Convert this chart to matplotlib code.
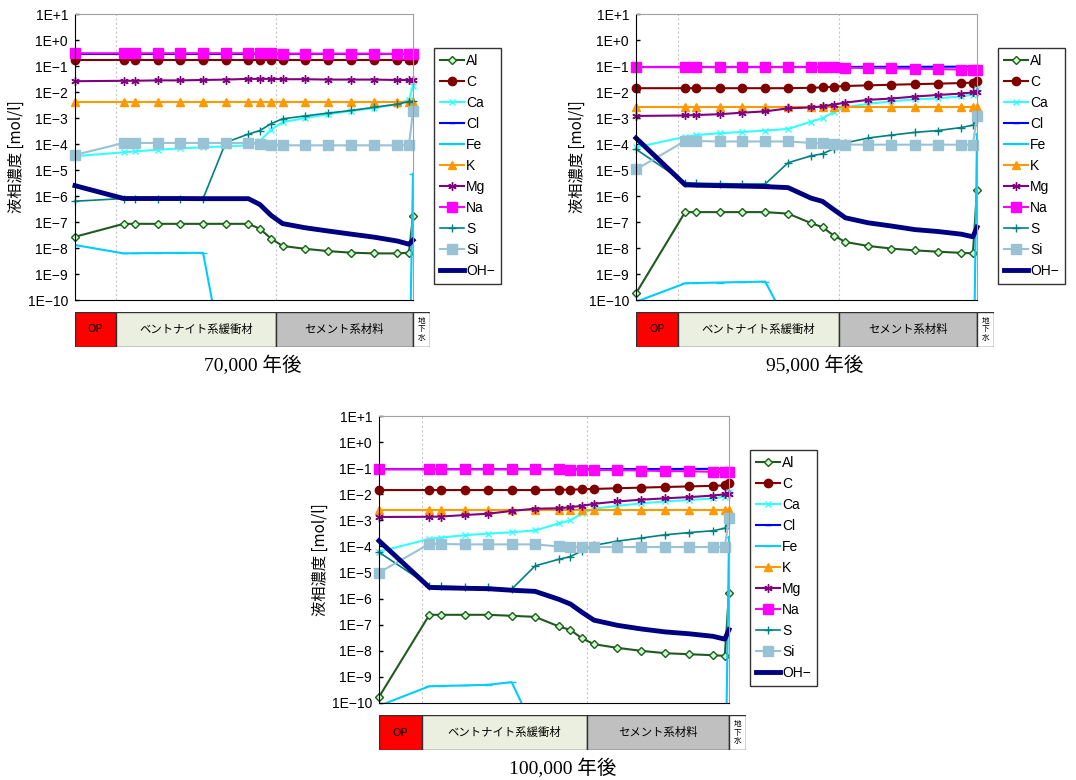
import numpy as np
import matplotlib
matplotlib.use("Agg")
from matplotlib import pyplot as plt
from matplotlib.ticker import FixedLocator, FuncFormatter, NullLocator

plt.rcParams['font.family'] = ['Liberation Sans', 'Noto Sans CJK JP', 'DejaVu Sans']

# positions of calculation nodes (fraction of OP + buffer + cement width)
X = [0.0, 0.144, 0.177, 0.245, 0.312, 0.379, 0.446, 0.513, 0.547, 0.580,
     0.614, 0.681, 0.749, 0.818, 0.886, 0.954, 0.988, 1.0]
REGION_EDGES = [0.0, 0.122, 0.595, 1.0, 1.05]
REGION_NAMES = ['OP', 'ベントナイト系緩衝材', 'セメント系材料', '地\n下\n水']
SPECIES = ['Al', 'C', 'Ca', 'Cl', 'Fe', 'K', 'Mg', 'Na', 'S', 'Si', 'OH−']

# 70,000 years
AL_70 = [2.7e-8, 8.5e-8, 8.5e-8, 8.5e-8, 8.5e-8, 8.5e-8, 8.5e-8, 8.5e-8, 5.5e-8, 2.3e-8,
         1.2e-8, 9.3e-9, 7.6e-9, 6.6e-9, 6.2e-9, 6.2e-9, 6.6e-9, 1.7e-7]
C_70 = [0.17, 0.17, 0.17, 0.17, 0.17, 0.17, 0.17, 0.17, 0.17, 0.17,
        0.17, 0.17, 0.17, 0.17, 0.17, 0.17, 0.17, 0.17]
CA_70 = [3.4e-5, 4.8e-5, 5.2e-5, 6.0e-5, 6.8e-5, 7.5e-5, 8.1e-5, 8.9e-5, 1.3e-4, 3.6e-4,
         6.9e-4, 1.0e-3, 1.4e-3, 1.9e-3, 2.4e-3, 3.5e-3, 5.0e-3, 1.7e-2]
CL_70 = [0.28, 0.28, 0.28, 0.28, 0.28, 0.28, 0.28, 0.28, 0.28, 0.28,
         0.28, 0.28, 0.28, 0.28, 0.28, 0.28, 0.28, 0.28]
FE_70 = [1.3e-8, 6.2e-9, 6.3e-9, 6.4e-9, 6.5e-9, 6.5e-9, 1.5e-13, 1e-14, 1e-14, 1e-14,
         1e-14, 1e-14, 1e-14, 1e-14, 1e-14, 1e-14, 1e-14, 7.2e-6]
K_70 = [4.1e-3, 4.1e-3, 4.1e-3, 4.1e-3, 4.1e-3, 4.1e-3, 4.1e-3, 4.1e-3, 4.1e-3, 4.1e-3,
        4.1e-3, 4.1e-3, 4.1e-3, 4.1e-3, 4.1e-3, 4.1e-3, 4.1e-3, 4.1e-3]
MG_70 = [0.026, 0.027, 0.027, 0.028, 0.028, 0.029, 0.030, 0.032, 0.032, 0.032,
         0.031, 0.031, 0.030, 0.030, 0.030, 0.029, 0.029, 0.029]
NA_70 = [0.31, 0.31, 0.31, 0.31, 0.31, 0.31, 0.31, 0.31, 0.31, 0.31,
         0.30, 0.30, 0.30, 0.30, 0.30, 0.29, 0.29, 0.29]
S_70 = [6.3e-7, 8.0e-7, 8.0e-7, 8.0e-7, 8.0e-7, 8.0e-7, 1.15e-4, 2.4e-4, 3.3e-4, 6.0e-4,
        9.3e-4, 1.2e-3, 1.55e-3, 1.95e-3, 2.6e-3, 3.4e-3, 4.3e-3, 4.4e-3]
SI_70 = [3.8e-5, 1.1e-4, 1.1e-4, 1.1e-4, 1.1e-4, 1.1e-4, 1.1e-4, 1.1e-4, 1.0e-4, 9.1e-5,
         8.9e-5, 8.9e-5, 8.9e-5, 8.9e-5, 8.9e-5, 8.9e-5, 8.9e-5, 1.8e-3]
OH_70 = [2.5e-6, 8.0e-7, 8.0e-7, 8.0e-7, 8.0e-7, 7.9e-7, 7.9e-7, 7.9e-7, 4.7e-7, 1.8e-7,
         8.7e-8, 6.0e-8, 4.5e-8, 3.4e-8, 2.6e-8, 1.85e-8, 1.4e-8, 2.0e-8]

# 95,000 years
AL_95 = [1.8e-10, 2.4e-7, 2.4e-7, 2.4e-7, 2.4e-7, 2.4e-7, 2.1e-7, 9.1e-8, 6.3e-8, 3.0e-8,
         1.7e-8, 1.2e-8, 9.5e-9, 8.1e-9, 7.2e-9, 6.5e-9, 6.2e-9, 1.7e-6]
C_95 = [0.014, 0.014, 0.014, 0.014, 0.014, 0.014, 0.014, 0.0145, 0.015, 0.016,
        0.017, 0.018, 0.019, 0.020, 0.021, 0.022, 0.023, 0.026]
CA_95 = [7.4e-5, 1.9e-4, 2.2e-4, 2.6e-4, 2.9e-4, 3.3e-4, 3.8e-4, 7.2e-4, 1.0e-3, 1.7e-3,
         2.6e-3, 3.5e-3, 4.4e-3, 5.2e-3, 5.7e-3, 6.8e-3, 7.9e-3, 1.3e-2]
CL_95 = [0.092, 0.092, 0.092, 0.092, 0.092, 0.092, 0.092, 0.092, 0.092, 0.092,
         0.092, 0.093, 0.093, 0.093, 0.094, 0.094, 0.095, 0.095]
FE_95 = [8.5e-11, 4.4e-10, 4.5e-10, 4.7e-10, 4.9e-10, 5.1e-10, 1.1e-11, 1e-14, 1e-14, 1e-14,
         1e-14, 1e-14, 1e-14, 1e-14, 1e-14, 1e-14, 1e-15, 2.4e-4]
K_95 = [2.6e-3, 2.6e-3, 2.6e-3, 2.6e-3, 2.6e-3, 2.6e-3, 2.6e-3, 2.6e-3, 2.6e-3, 2.6e-3,
        2.6e-3, 2.6e-3, 2.6e-3, 2.6e-3, 2.6e-3, 2.6e-3, 2.6e-3, 2.6e-3]
MG_95 = [1.2e-3, 1.25e-3, 1.3e-3, 1.4e-3, 1.6e-3, 1.8e-3, 2.35e-3, 2.55e-3, 2.8e-3, 3.3e-3,
         3.9e-3, 5.0e-3, 5.6e-3, 6.7e-3, 7.7e-3, 8.7e-3, 9.7e-3, 1.0e-2]
NA_95 = [0.09, 0.09, 0.09, 0.09, 0.09, 0.09, 0.09, 0.09, 0.089, 0.088,
         0.086, 0.084, 0.081, 0.078, 0.076, 0.073, 0.070, 0.070]
S_95 = [6.3e-5, 3.3e-6, 3.1e-6, 3.0e-6, 2.9e-6, 2.9e-6, 1.9e-5, 3.5e-5, 4.2e-5, 6.6e-5,
        1.1e-4, 1.7e-4, 2.2e-4, 2.8e-4, 3.3e-4, 4.3e-4, 5.3e-4, 8.5e-4]
SI_95 = [1.05e-5, 1.3e-4, 1.3e-4, 1.25e-4, 1.25e-4, 1.25e-4, 1.25e-4, 1.1e-4, 1.05e-4, 1.0e-4,
         9.5e-5, 9.4e-5, 9.4e-5, 9.4e-5, 9.4e-5, 9.4e-5, 9.4e-5, 1.2e-3]
OH_95 = [1.7e-4, 2.7e-6, 2.6e-6, 2.5e-6, 2.4e-6, 2.3e-6, 2.1e-6, 8.3e-7, 6.2e-7, 3.0e-7,
         1.45e-7, 9.3e-8, 7.0e-8, 5.1e-8, 4.3e-8, 3.4e-8, 2.7e-8, 6.3e-8]

# 100,000 years
AL_100 = [1.7e-10, 2.4e-7, 2.4e-7, 2.4e-7, 2.4e-7, 2.2e-7, 2.0e-7, 8.7e-8, 6.3e-8, 3.0e-8,
          1.8e-8, 1.3e-8, 1.0e-8, 8.1e-9, 7.4e-9, 6.8e-9, 6.4e-9, 1.7e-6]
C_100 = [0.0145, 0.0145, 0.0145, 0.0145, 0.0145, 0.0145, 0.0145, 0.015, 0.015, 0.0155,
         0.016, 0.017, 0.018, 0.019, 0.020, 0.021, 0.022, 0.026]
CA_100 = [6.3e-5, 1.95e-4, 2.2e-4, 2.7e-4, 3.1e-4, 3.5e-4, 4.1e-4, 7.6e-4, 1.0e-3, 1.85e-3,
          2.8e-3, 3.6e-3, 4.5e-3, 5.3e-3, 6.0e-3, 6.9e-3, 8.2e-3, 1.26e-2]
CL_100 = [0.092, 0.092, 0.092, 0.092, 0.092, 0.092, 0.092, 0.092, 0.092, 0.092,
          0.092, 0.093, 0.093, 0.093, 0.094, 0.094, 0.095, 0.095]
FE_100 = [7.8e-11, 4.4e-10, 4.5e-10, 4.7e-10, 5.0e-10, 6.3e-10, 8e-12, 1e-14, 1e-14, 1e-14,
          1e-14, 1e-14, 1e-14, 1e-14, 1e-14, 1e-14, 1e-15, 2.3e-4]
K_100 = [2.6e-3, 2.6e-3, 2.6e-3, 2.6e-3, 2.6e-3, 2.6e-3, 2.6e-3, 2.6e-3, 2.6e-3, 2.6e-3,
         2.6e-3, 2.6e-3, 2.6e-3, 2.6e-3, 2.6e-3, 2.6e-3, 2.6e-3, 2.6e-3]
MG_100 = [1.35e-3, 1.37e-3, 1.4e-3, 1.6e-3, 1.8e-3, 2.3e-3, 2.8e-3, 2.9e-3, 3.2e-3, 3.6e-3,
          4.3e-3, 5.3e-3, 6.2e-3, 7.0e-3, 7.8e-3, 8.9e-3, 1.0e-2, 1.05e-2]
NA_100 = [0.09, 0.09, 0.09, 0.09, 0.09, 0.09, 0.09, 0.09, 0.089, 0.088,
          0.086, 0.084, 0.081, 0.078, 0.076, 0.073, 0.070, 0.070]
S_100 = [6.0e-5, 3.1e-6, 3.0e-6, 2.8e-6, 2.7e-6, 2.3e-6, 1.8e-5, 3.2e-5, 4.1e-5, 6.8e-5,
         1.1e-4, 1.6e-4, 2.1e-4, 2.8e-4, 3.4e-4, 4.0e-4, 5.0e-4, 8.5e-4]
SI_100 = [1.0e-5, 1.25e-4, 1.25e-4, 1.2e-4, 1.2e-4, 1.2e-4, 1.2e-4, 1.0e-4, 9.8e-5, 9.5e-5,
          9.5e-5, 9.5e-5, 9.5e-5, 9.5e-5, 9.5e-5, 9.5e-5, 9.5e-5, 1.2e-3]
OH_100 = [1.65e-4, 2.7e-6, 2.6e-6, 2.5e-6, 2.4e-6, 2.1e-6, 1.9e-6, 9.5e-7, 6.2e-7, 3.0e-7,
          1.5e-7, 9.5e-8, 6.9e-8, 5.3e-8, 4.5e-8, 3.6e-8, 2.8e-8, 6.5e-8]

# line style per species: color, marker, markersize, marker face, linewidth
STYLES = {
    'Al':  dict(color='#1f5a1f', marker='D', ms=4.5, mfc='#ccffcc', lw=1.5),
    'C':   dict(color='#800000', marker='o', ms=6, mfc='#800000', lw=1.5),
    'Ca':  dict(color='#33ffff', marker='x', ms=5, mfc='#33ffff', lw=1.5),
    'Cl':  dict(color='#0000ff', marker='_', ms=4, mfc='#0000ff', lw=1.5),
    'Fe':  dict(color='#00ccff', marker='_', ms=6, mfc='#00ccff', lw=1.5),
    'K':   dict(color='#ff9900', marker='^', ms=6, mfc='#ff9900', lw=1.5),
    'Mg':  dict(color='#800080', marker=(6, 2, 0), ms=6, mfc='#800080', lw=1.5),
    'Na':  dict(color='#ff00ff', marker='s', ms=6.5, mfc='#ff00ff', lw=1.5),
    'S':   dict(color='#008080', marker='+', ms=6, mfc='#008080', lw=1.2),
    'Si':  dict(color='#99c2d4', marker='s', ms=6.5, mfc='#99c2d4', lw=1.5),
    'OH−': dict(color='#000080', marker=None, ms=0, mfc='#000080', lw=3.5),
}
REGION_COLORS = ['#ff0000', '#ebefdf', '#c0c0c0', '#ffffff']

W, H = 1076, 780


def px_rect(fig, left, top, right, bottom):
    return fig.add_axes([left / W, 1 - bottom / H, (right - left) / W, (bottom - top) / H])


def tick_label(v, pos):
    e = int(round(np.log10(v)))
    return '1E+%d' % e if e >= 0 else '1E−%d' % -e


def draw_panel(fig, box, series, caption):
    left, top, right, bottom = box
    ax = px_rect(fig, left, top, right, bottom)
    lines = []
    for name, vals in zip(SPECIES, series):
        st = STYLES[name]
        ln, = ax.plot(X, vals, color=st['color'], lw=st['lw'], marker=st['marker'],
                      ms=st['ms'], mfc=st['mfc'], mec=st['color'], mew=1.0,
                      clip_on=(name == 'Fe'), label=name)
        lines.append(ln)
    ax.set_yscale('log')
    ax.set_ylim(1e-10, 10)
    ax.set_xlim(0, 1.0)
    ax.yaxis.set_major_locator(FixedLocator([10.0 ** e for e in range(-10, 2)]))
    ax.yaxis.set_minor_locator(NullLocator())
    ax.yaxis.set_major_formatter(FuncFormatter(tick_label))
    ax.tick_params(axis='y', direction='in', length=3, width=1, labelsize=10, pad=5)
    ax.set_xticks([])
    for e in REGION_EDGES[1:3]:
        ax.axvline(e, color='#c8c8c8', lw=0.8, ls=(0, (2, 2)), zorder=0)
    ax.spines['left'].set_color('black')
    ax.spines['bottom'].set_color('black')
    ax.spines['top'].set_color('#a0a0a0')
    ax.spines['right'].set_color('#a0a0a0')
    ax.set_ylabel('液相濃度 [mol/l]', fontsize=11,
                  family=['Noto Sans CJK JP', 'DejaVu Sans'])
    ax.yaxis.label.set_va('center')
    ax.yaxis.set_label_coords(-59 / (right - left), 0.5)

    # legend to the right of the plot
    leg = ax.legend(lines, SPECIES, loc='upper left',
                    bbox_to_anchor=((right + 21) / W, 1 - (top + 34) / H),
                    bbox_transform=fig.transFigure, fontsize=10, frameon=True,
                    fancybox=False, edgecolor='black', handlelength=1.7,
                    handletextpad=0.15, labelspacing=0.5, borderpad=0.45,
                    borderaxespad=0)
    leg.get_frame().set_linewidth(1.0)

    # material region bar
    span = REGION_EDGES[-1] - REGION_EDGES[0]
    bar = px_rect(fig, left, bottom + 12, left + (right - left) * span, bottom + 47)
    widths = np.diff(REGION_EDGES)
    bar.barh(0, widths, left=REGION_EDGES[:-1], height=1, color=REGION_COLORS,
             edgecolor='#303030', linewidth=1)
    for i, name in enumerate(REGION_NAMES):
        cx = REGION_EDGES[i] + widths[i] / 2
        fs = 5.5 if i == 3 else 8.2
        bar.text(cx, 0, name, ha='center', va='center', fontsize=fs, linespacing=1.1,
                 family=['Noto Sans CJK JP', 'DejaVu Sans'])
    bar.set_xlim(REGION_EDGES[0], REGION_EDGES[-1])
    bar.set_ylim(-0.5, 0.5)
    bar.axis('off')

    fig.text((left + left + (right - left) * span) / 2 / W, 1 - (bottom + 65) / H, caption,
             ha='center', va='center', fontsize=14,
             family=['Liberation Serif', 'Noto Sans CJK JP'])


fig = plt.figure(figsize=(W / 100, H / 100), dpi=100)
draw_panel(fig, (75, 14, 413, 300),
           [AL_70, C_70, CA_70, CL_70, FE_70, K_70, MG_70, NA_70, S_70, SI_70, OH_70],
           '70,000 年後')
draw_panel(fig, (636, 14, 977, 300),
           [AL_95, C_95, CA_95, CL_95, FE_95, K_95, MG_95, NA_95, S_95, SI_95, OH_95],
           '95,000 年後')
draw_panel(fig, (379, 416, 729, 703),
           [AL_100, C_100, CA_100, CL_100, FE_100, K_100, MG_100, NA_100, S_100, SI_100, OH_100],
           '100,000 年後')
fig.savefig('out.png', dpi=100)
